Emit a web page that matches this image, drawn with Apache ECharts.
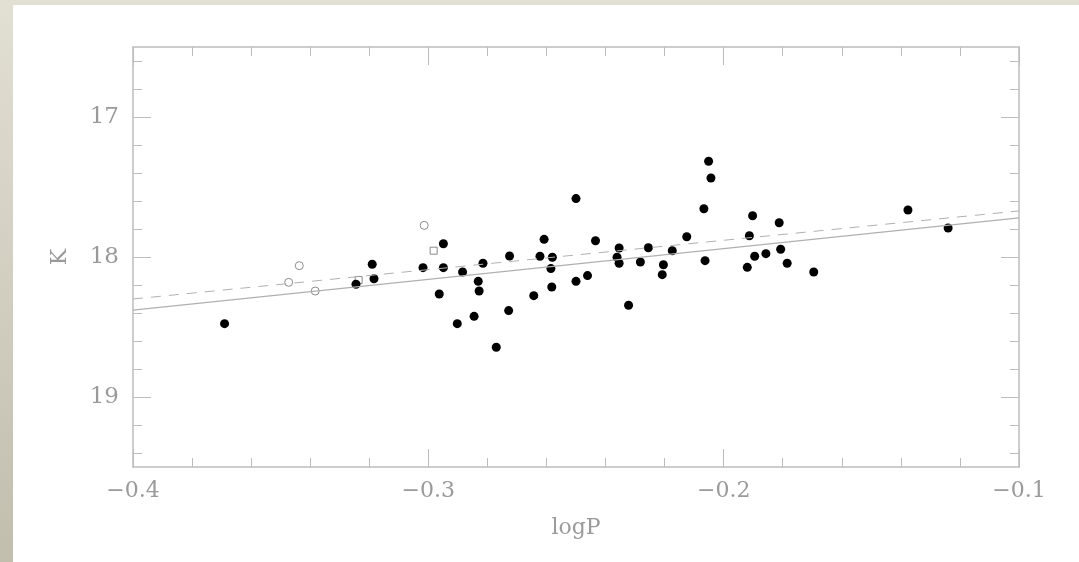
<!DOCTYPE html>
<html>
<head>
<meta charset="utf-8">
<script src="https://cdn.jsdelivr.net/npm/echarts@6/dist/echarts.min.js"></script>
<style>
  html, body { margin: 0; padding: 0; }
  body {
    width: 1079px; height: 562px; overflow: hidden;
    background: linear-gradient(to bottom, #e2dfd3, #c2beae);
  }
  #main {
    position: absolute; left: 13px; top: 5px;
    width: 1066px; height: 557px; background: #fff;
  }
</style>
</head>
<body>
<div id="main"></div>
<script>
// filled points: [logP, K]
var filledPts = [
  [-0.369, 18.476], [-0.3245, 18.195], [-0.319, 18.052], [-0.3184, 18.155],
  [-0.3018, 18.076], [-0.2949, 17.905], [-0.2949, 18.076], [-0.2963, 18.264],
  [-0.2902, 18.476], [-0.2884, 18.107], [-0.25, 17.583], [-0.2067, 17.655],
  [-0.2815, 18.045], [-0.2831, 18.174], [-0.2828, 18.243], [-0.2845, 18.424],
  [-0.277, 18.645], [-0.2725, 17.993], [-0.2728, 18.383], [-0.2608, 17.874],
  [-0.2622, 17.995], [-0.258, 18.002], [-0.2585, 18.083], [-0.2582, 18.214],
  [-0.2643, 18.276], [-0.25, 18.174], [-0.2461, 18.133], [-0.2434, 17.884],
  [-0.2354, 17.936], [-0.2361, 18.002], [-0.2354, 18.045], [-0.2322, 18.345],
  [-0.2282, 18.036], [-0.2255, 17.934], [-0.2204, 18.055], [-0.2208, 18.126],
  [-0.2174, 17.955], [-0.2125, 17.855], [-0.2063, 18.026], [-0.2051, 17.316],
  [-0.2043, 17.436], [-0.1902, 17.705], [-0.1913, 17.848], [-0.1812, 17.755],
  [-0.1807, 17.945], [-0.1857, 17.976], [-0.1895, 17.995], [-0.192, 18.074],
  [-0.1785, 18.045], [-0.1695, 18.107], [-0.1376, 17.664], [-0.124, 17.793]
];
// open circles
var openCircles = [
  [-0.3014, 17.774], [-0.3437, 18.062], [-0.3473, 18.181], [-0.3383, 18.243]
];
// open squares
var openSquares = [
  [-0.2982, 17.955], [-0.3236, 18.164]
];
// fitted lines (ends)
var fitSolid = [[-0.4, 18.379], [-0.1, 17.721]];
var fitDashed = [[-0.4, 18.30], [-0.1, 17.671]];

// tick values
var yMajor = [17, 18, 19];
var yMinor = [16.6, 16.8, 17.2, 17.4, 17.6, 17.8, 18.2, 18.4, 18.6, 18.8, 19.2, 19.4];

var chart = echarts.init(document.getElementById('main'));

var axisCol = '#bdbdbd';
var txtCol = '#9a9a9a';
var fontFam = 'DejaVu Serif';

function fmtX(v) {
  return (v < 0 ? '\u2212' : '') + Math.abs(v).toFixed(1);
}

function yAx(pos, major, withLabel) {
  return {
    type: 'value',
    position: pos,
    offset: 0,
    min: 16.5,
    max: 19.5,
    inverse: true,
    axisLine: { show: major, lineStyle: { color: axisCol, width: 1.5 } },
    axisTick: {
      show: true, inside: true, length: major ? 18 : 9,
      customValues: major ? yMajor : yMinor,
      lineStyle: { color: axisCol, width: 1 }
    },
    axisLabel: withLabel ? {
      show: true, customValues: yMajor, color: txtCol,
      fontFamily: fontFam, fontSize: 23, margin: 14
    } : { show: false },
    splitLine: { show: false },
    name: withLabel ? 'K' : '',
    nameLocation: 'middle',
    nameRotate: 90,
    nameGap: 62,
    nameTextStyle: { color: txtCol, fontFamily: fontFam, fontSize: 22 }
  };
}

function xAx(pos, withLabel) {
  return {
    type: 'value',
    position: pos,
    min: -0.4,
    max: -0.1,
    interval: 0.1,
    axisLine: { show: true, lineStyle: { color: axisCol, width: 1.5 } },
    axisTick: { show: true, inside: true, length: 18, lineStyle: { color: axisCol } },
    minorTick: { show: true, splitNumber: 5, length: 9, lineStyle: { color: axisCol } },
    axisLabel: withLabel ? {
      show: true, color: txtCol, fontFamily: fontFam, fontSize: 22,
      margin: 13, formatter: fmtX
    } : { show: false },
    splitLine: { show: false },
    minorSplitLine: { show: false },
    name: withLabel ? 'logP' : '',
    nameLocation: 'middle',
    nameGap: 50,
    nameTextStyle: { color: txtCol, fontFamily: fontFam, fontSize: 22 }
  };
}

var option = {
  animation: false,
  grid: { left: 120, top: 42, width: 886, height: 420 },
  xAxis: [xAx('bottom', true), xAx('top', false)],
  yAxis: [
    yAx('left', true, true),
    yAx('left', false, false),
    yAx('right', true, false),
    yAx('right', false, false)
  ],
  series: [
    {
      type: 'line', data: fitSolid, symbol: 'none', silent: true,
      lineStyle: { color: '#b0b0b0', width: 1.2 }
    },
    {
      type: 'line', data: fitDashed, symbol: 'none', silent: true,
      lineStyle: { color: '#b0b0b0', width: 1, type: [10, 8] }
    },
    {
      type: 'scatter', data: openCircles, symbol: 'circle', symbolSize: 8,
      itemStyle: { color: '#fff', borderColor: '#8a8a8a', borderWidth: 1, opacity: 1 }
    },
    {
      type: 'scatter', data: openSquares, symbol: 'rect', symbolSize: 7,
      itemStyle: { color: '#fff', borderColor: '#8a8a8a', borderWidth: 1, opacity: 1 }
    },
    {
      type: 'scatter', data: filledPts, symbol: 'circle', symbolSize: 9,
      itemStyle: { color: '#000', opacity: 1 }
    }
  ]
};

chart.setOption(option);
</script>
</body>
</html>
